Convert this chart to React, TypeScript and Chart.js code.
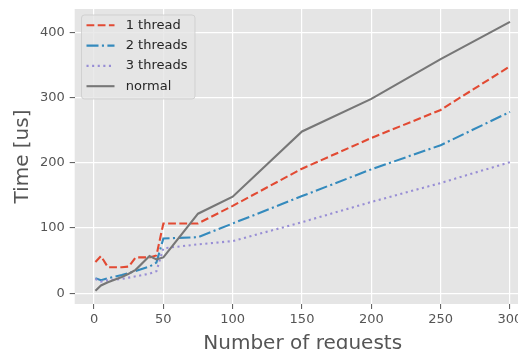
import React, { useEffect, useRef } from "react";
import { Chart, registerables } from "chart.js";

Chart.register(...registerables);

const requests = [1, 5, 10, 20, 25, 30, 40, 45, 50, 75, 100, 150, 200, 250, 300];
const oneThread = [48, 57, 40, 40, 41, 55, 55, 58, 107, 107, 134, 191, 238, 281, 348];
const twoThreads = [23, 20, 23, 28, 31, 34, 41, 47, 84, 86, 107, 149, 190, 227, 278];
const threeThreads = [22, 18, 20, 22, 24, 26, 30, 34, 69, 75, 80, 109, 140, 169, 201];
const normal = [4, 12, 17, 25, 30, 36, 57, 52, 55, 122, 148, 248, 298, 359, 416];

const seriesLabels = ["1 thread", "2 threads", "3 threads", "normal"];
const xTicks = [0, 50, 100, 150, 200, 250, 300];
const yTicks = [0, 100, 200, 300, 400];

const FONT = "'DejaVu Sans', sans-serif";

const bgPlugin = {
  id: "ggbg",
  beforeDraw(chart: any) {
    const { ctx, chartArea } = chart;
    ctx.save();
    ctx.fillStyle = "#E5E5E5";
    ctx.fillRect(chartArea.left, chartArea.top, chartArea.right - chartArea.left, chartArea.bottom - chartArea.top);
    ctx.restore();
  },
};

const legendPlugin = {
  id: "gglegend",
  afterDraw(chart: any) {
    const { ctx } = chart;
    const x0 = 81.5, y0 = 15, w = 113.5, h = 84, r = 3;
    ctx.save();
    ctx.beginPath();
    ctx.moveTo(x0 + r, y0);
    ctx.lineTo(x0 + w - r, y0);
    ctx.arcTo(x0 + w, y0, x0 + w, y0 + r, r);
    ctx.lineTo(x0 + w, y0 + h - r);
    ctx.arcTo(x0 + w, y0 + h, x0 + w - r, y0 + h, r);
    ctx.lineTo(x0 + r, y0 + h);
    ctx.arcTo(x0, y0 + h, x0, y0 + h - r, r);
    ctx.lineTo(x0, y0 + r);
    ctx.arcTo(x0, y0, x0 + r, y0, r);
    ctx.closePath();
    ctx.fillStyle = "rgba(229,229,229,0.8)";
    ctx.fill();
    ctx.strokeStyle = "rgba(204,204,204,0.8)";
    ctx.lineWidth = 1;
    ctx.stroke();
    const items = [0, 1, 2, 3].map((i) => chart.data.datasets[i]);
    items.forEach((ds: any, i: number) => {
      const y = 25.3 + 20.3 * i;
      ctx.beginPath();
      ctx.setLineDash(ds.borderDash || []);
      ctx.strokeStyle = ds.borderColor;
      ctx.lineWidth = ds.borderWidth;
      ctx.moveTo(86.5, y);
      ctx.lineTo(114.5, y);
      ctx.stroke();
      ctx.setLineDash([]);
      ctx.fillStyle = "#262626";
      ctx.font = `13px ${FONT}`;
      ctx.textBaseline = "middle";
      ctx.textAlign = "left";
      ctx.fillText(ds.label, 125.7, y);
    });
    ctx.restore();
  },
};

export default function App() {
  const ref = useRef<HTMLCanvasElement | null>(null);
  useEffect(() => {
    if (!ref.current) return;
    const mk = (vals: number[]) => requests.map((x, i) => ({ x, y: vals[i] }));
    const chart = new Chart(ref.current, {
      type: "line",
      data: {
        datasets: [
          { label: seriesLabels[0], data: mk(oneThread), borderColor: "#E24A33", borderWidth: 2.1, borderDash: [7.8, 3.4], order: 3 },
          { label: seriesLabels[1], data: mk(twoThreads), borderColor: "#348ABD", borderWidth: 2.1, borderDash: [12, 3.4, 2.1, 3.4], order: 2 },
          { label: seriesLabels[2], data: mk(threeThreads), borderColor: "#988ED5", borderWidth: 2.1, borderDash: [2.1, 3.5], order: 1 },
          { label: seriesLabels[3], data: mk(normal), borderColor: "#777777", borderWidth: 2.1, order: 0 },
        ] as any,
      },
      options: {
        animation: false,
        responsive: false,
        events: [],
        layout: { padding: { top: 9, left: 0, right: 29.3, bottom: 0 } },
        elements: { point: { radius: 0 }, line: { tension: 0, borderCapStyle: "butt" } },
        plugins: { legend: { display: false }, tooltip: { enabled: false } },
        scales: {
          x: {
            type: "linear",
            min: -13.95,
            max: 314.95,
            afterBuildTicks: (s: any) => { s.ticks = xTicks.map((v) => ({ value: v })); },
            afterFit: (s: any) => { s.height = 61; s.paddingLeft = 0; s.paddingRight = 0; },
            ticks: { color: "#555555", font: { family: FONT, size: 13 }, padding: 3, maxRotation: 0, autoSkip: false },
            grid: { color: "#FFFFFF", lineWidth: 1.2, tickColor: "#555555", tickLength: 5, tickWidth: 1 },
            border: { display: false },
            title: { display: true, text: "Number of requests", color: "#555555", font: { family: FONT, size: 20 }, padding: { top: 0, bottom: 9 } },
          },
          y: {
            type: "linear",
            min: -16.4,
            max: 435.7,
            afterBuildTicks: (s: any) => { s.ticks = yTicks.map((v) => ({ value: v })); },
            afterFit: (s: any) => { s.width = 74.7; s.paddingTop = 0; s.paddingBottom = 0; },
            ticks: { color: "#555555", font: { family: FONT, size: 13 }, padding: 5, autoSkip: false },
            grid: { color: "#FFFFFF", lineWidth: 1.2, tickColor: "#555555", tickLength: 5, tickWidth: 1 },
            border: { display: false },
            title: { display: true, text: "Time [us]", color: "#555555", font: { family: FONT, size: 20 }, padding: { top: 11, bottom: 0 } },
          },
        },
      } as any,
      plugins: [bgPlugin, legendPlugin],
    });
    return () => chart.destroy();
  }, []);
  return (
    <div style={{ position: "fixed", left: 0, top: 0, width: 518, height: 349, overflow: "hidden", background: "#fff" }}>
      <canvas ref={ref} width={560} height={365} style={{ width: 560, height: 365, display: "block" }} />
    </div>
  );
}
